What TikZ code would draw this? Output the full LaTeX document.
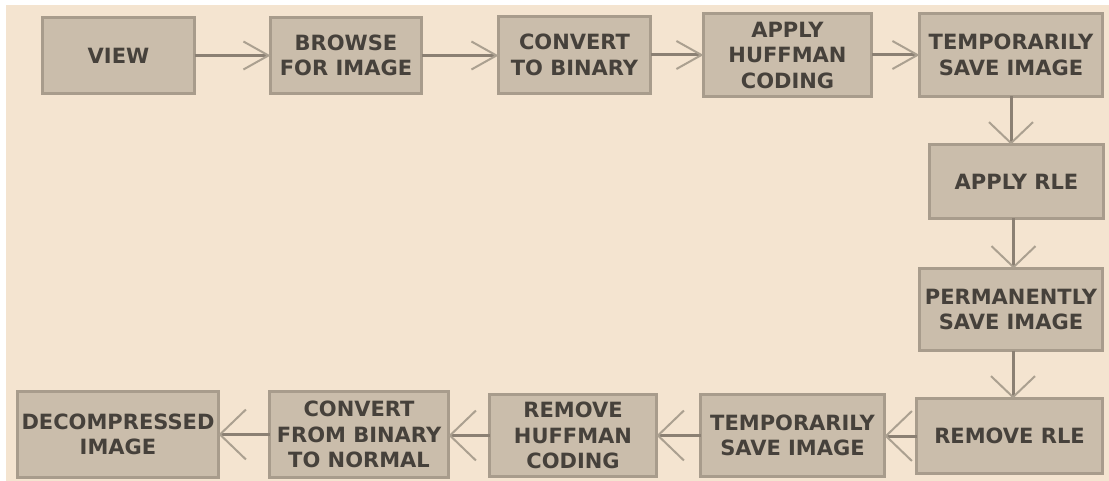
\documentclass[tikz,border=0pt]{standalone}
\usepackage{fontspec}
\setmainfont{DejaVu Sans}
\usetikzlibrary{arrows.meta}
\definecolor{bgbeige}{HTML}{F4E4D0}
\definecolor{boxfill}{HTML}{CABDAB}
\definecolor{boxline}{HTML}{A89C8C}
\definecolor{shaft}{HTML}{8B8073}
\definecolor{barb}{HTML}{ABA090}
\definecolor{txt}{HTML}{46413B}
\tikzset{
  stepbox/.style={draw=boxline, fill=boxfill, line width=3pt, inner sep=0pt, outer sep=0pt,
    align=center, text=txt, font=\fontsize{21}{25.5}\selectfont\bfseries},
  toparrow/.style={draw=shaft, line width=3pt,
    -{Straight Barb[length=25pt,width=28pt,line width=2pt,color=barb]}},
  botarrow/.style={draw=shaft, line width=3pt,
    -{Straight Barb[length=26pt,width=50pt,line width=2pt,color=barb]}},
  vertarrow/.style={draw=shaft, line width=3pt,
    -{Straight Barb[length=21pt,width=44pt,line width=2pt,color=barb]}}
}
\newcommand{\bx}[6]{% name, x1, x2, y1, y2, text
  \node[stepbox, minimum width={#3-#2-3pt}, minimum height={#5-#4-3pt}] (#1) at ({(#2+#3)/2},{(#4+#5)/2}) {#6};}
\begin{document}
\begin{tikzpicture}[x=1pt,y=-1pt]
\fill[white] (0,0) rectangle (1109,481);
\fill[bgbeige] (6,5) rectangle (1109,481);
\useasboundingbox (0,0) rectangle (1109,481);
\bx{view}{41}{196}{16}{95}{VIEW}
\bx{browse}{269}{423}{16}{95}{BROWSE\\FOR IMAGE}
\bx{convert}{497}{652}{15}{95}{CONVERT\\TO BINARY}
\bx{huffman}{702}{873}{12}{98}{APPLY\\HUFFMAN\\CODING}
\bx{tempa}{918}{1104}{12}{98}{TEMPORARILY\\SAVE IMAGE}
\bx{applyrle}{928}{1105}{143}{220}{APPLY RLE}
\bx{perm}{918}{1104}{267}{352}{PERMANENTLY\\SAVE IMAGE}
\bx{removerle}{915}{1104}{397}{475}{REMOVE RLE}
\bx{tempb}{699}{886}{393}{478}{TEMPORARILY\\SAVE IMAGE}
\bx{removehuff}{488}{658}{393}{478}{REMOVE\\HUFFMAN\\CODING}
\bx{convfrom}{268}{450}{390}{479}{CONVERT\\FROM BINARY\\TO NORMAL}
\bx{decomp}{16}{220}{390}{479}{DECOMPRESSED\\IMAGE}
\draw[toparrow] (view.east) -- (browse.west |- view.east);
\draw[toparrow] (browse.east) -- (convert.west |- browse.east);
\draw[toparrow] (convert.east) -- (huffman.west |- convert.east);
\draw[toparrow] (huffman.east) -- (tempa.west |- huffman.east);
\draw[vertarrow] (tempa.south) -- (tempa.south |- applyrle.north);
\draw[vertarrow] ([xshift=-3pt]applyrle.south) -- ([xshift=-3pt]applyrle.south |- perm.north);
\draw[vertarrow] ([xshift=2pt]perm.south) -- ([xshift=2pt]perm.south |- removerle.north);
\draw[botarrow] (removerle.west) -- (tempb.east |- removerle.west);
\draw[botarrow] (tempb.west) -- (removehuff.east |- tempb.west);
\draw[botarrow] (removehuff.west) -- (convfrom.east |- removehuff.west);
\draw[botarrow] (convfrom.west) -- (decomp.east |- convfrom.west);
\end{tikzpicture}
\end{document}
